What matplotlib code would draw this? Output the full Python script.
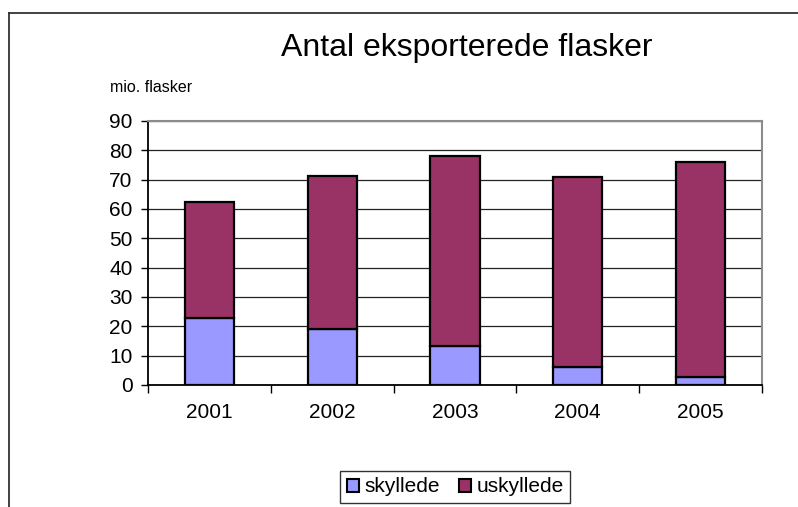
import matplotlib.pyplot as plt
from matplotlib.lines import Line2D
from matplotlib.patches import Patch

plt.rcParams['font.family'] = ['Liberation Sans', 'DejaVu Sans']

# data (mio. flasker)
years = ['2001', '2002', '2003', '2004', '2005']
skyllede = [22.8, 19.2, 13.4, 6.2, 2.6]
uskyllede = [39.6, 52.0, 64.7, 64.7, 73.4]
yticks = [0, 10, 20, 30, 40, 50, 60, 70, 80, 90]

col_sky = '#9999FF'
col_usky = '#993366'

fig = plt.figure(figsize=(7.98, 5.07), dpi=100)
ax = fig.add_axes([148 / 798, 1 - 385 / 507, 614 / 798, 264 / 507])

x = list(range(len(years)))
ax.bar(x, skyllede, width=0.4, color=col_sky, edgecolor='black', linewidth=1.6, zorder=3)
ax.bar(x, uskyllede, width=0.4, bottom=skyllede, color=col_usky, edgecolor='black',
       linewidth=1.6, zorder=3)

ax.set_xlim(-0.5, len(years) - 0.5)
ax.set_ylim(0, 90)
ax.set_yticks(yticks)
ax.set_yticklabels([str(v) for v in yticks], fontsize=15)
ax.yaxis.grid(True, color='#222222', linewidth=0.9, zorder=0)
ax.set_axisbelow(True)

# category labels in the middle, ticks on the boundaries
ax.set_xticks(x)
ax.set_xticklabels(years, fontsize=15)
ax.tick_params(axis='x', length=0, pad=13)
ax.set_xticks([i - 0.5 for i in range(len(years) + 1)], minor=True)
ax.tick_params(axis='x', which='minor', length=6, width=1, color='black', direction='out')
ax.tick_params(axis='y', length=5, width=1, direction='out', pad=6)

for s in ['top', 'right']:
    ax.spines[s].set_color('#8c8c8c')
    ax.spines[s].set_linewidth(1.5)
ax.spines['left'].set_linewidth(1.3)
ax.spines['bottom'].set_linewidth(1.3)

fig.text(467 / 798, 1 - 48 / 507, 'Antal eksporterede flasker', fontsize=23,
         ha='center', va='center')
fig.text(110 / 798, 1 - 87 / 507, 'mio. flasker', fontsize=11.5, ha='left', va='center')

handles = [Patch(facecolor=col_sky, edgecolor='black', linewidth=1.5, label='skyllede'),
           Patch(facecolor=col_usky, edgecolor='black', linewidth=1.5, label='uskyllede')]
leg = fig.legend(handles=handles, loc='center', bbox_to_anchor=(455 / 798, 1 - 487 / 507),
                 ncol=2, fontsize=15, frameon=True, fancybox=False, borderpad=0.3,
                 handlelength=0.6, handleheight=0.6, handletextpad=0.25, columnspacing=0.9,
                 borderaxespad=0)
leg.get_frame().set_edgecolor('black')
leg.get_frame().set_linewidth(1.0)

# outer frame of the chart object (cut off at right and bottom)
fig.add_artist(Line2D([9 / 798, 9 / 798], [0, 1 - 13 / 507], color='#333333', linewidth=1.3))
fig.add_artist(Line2D([9 / 798, 1], [1 - 13 / 507, 1 - 13 / 507], color='#333333', linewidth=1.3))

# caption line above the chart, only its descenders are visible
fig.text(2 / 798, 1 + 8 / 507, 'Figur 2.10 Antal eksporterede flasker', fontsize=12,
         ha='left', va='baseline')

fig.savefig('out.png', dpi=100)
